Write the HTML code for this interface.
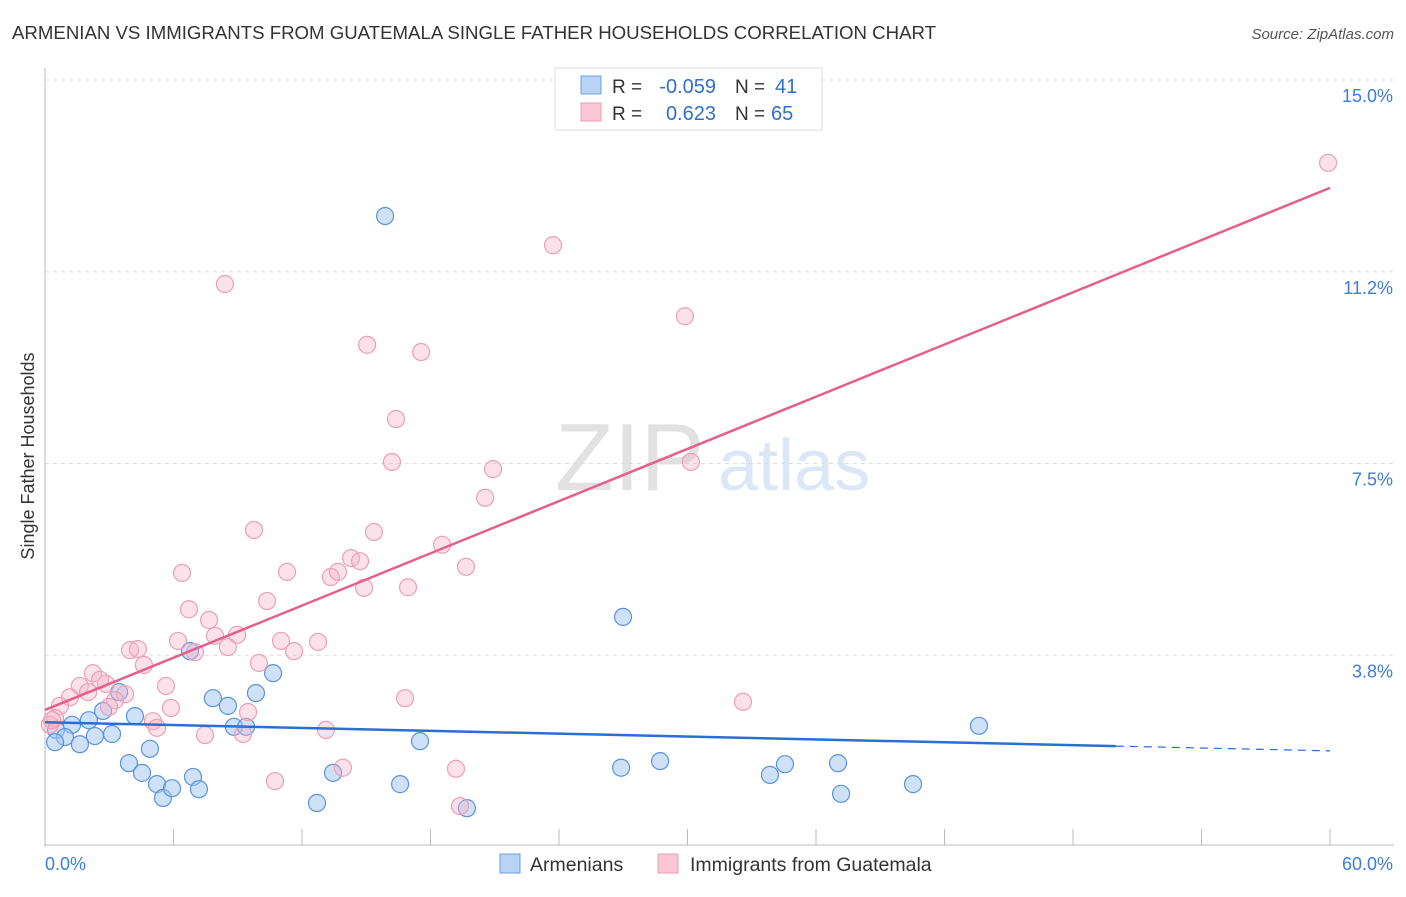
<!DOCTYPE html>
<html><head><meta charset="utf-8"><style>
body{margin:0;background:#fff;font-family:"Liberation Sans",sans-serif}
svg text{font-family:"Liberation Sans",sans-serif}
</style></head><body>
<svg id="chart" width="1406" height="892" xmlns="http://www.w3.org/2000/svg">
<text x="12" y="39" font-size="18.5" fill="#333" textLength="924" lengthAdjust="spacingAndGlyphs">ARMENIAN VS IMMIGRANTS FROM GUATEMALA SINGLE FATHER HOUSEHOLDS CORRELATION CHART</text>
<text x="1394" y="39" font-size="15" fill="#555" font-style="italic" text-anchor="end">Source: ZipAtlas.com</text>
<text x="555" y="490" font-size="96" fill="#e2e2e2" font-family="Liberation Serif">ZIP</text>
<text x="718" y="490" font-size="72" fill="#dbe7f6">atlas</text>
<g id="grid"></g>
<g id="axes"></g>
<g id="marks"></g>
<text transform="translate(34,456) rotate(-90)" font-size="18" fill="#333" text-anchor="middle">Single Father Households</text>
<g>
<rect x="555" y="68" width="267" height="62" fill="#fff" stroke="#ddd"/>
<rect x="581" y="76" width="20" height="18" fill="#b8d3f5" stroke="#6d9fe0"/>
<rect x="581" y="103" width="20" height="18" fill="#f9c6d5" stroke="#eba0b8"/>
<text x="612" y="93" font-size="19" fill="#333">R =</text>
<text x="716" y="93" font-size="20" fill="#2f6fd0" text-anchor="end">-0.059</text>
<text x="735" y="93" font-size="19" fill="#333">N =</text>
<text x="775" y="93" font-size="20" fill="#2f6fd0">41</text>
<text x="612" y="120" font-size="19" fill="#333">R =</text>
<text x="716" y="120" font-size="20" fill="#2f6fd0" text-anchor="end">0.623</text>
<text x="735" y="120" font-size="19" fill="#333">N =</text>
<text x="771" y="120" font-size="20" fill="#2f6fd0">65</text>
</g>
<g>
<rect x="500" y="854" width="20" height="19" fill="#b8d3f5" stroke="#6d9fe0"/>
<text x="530" y="871" font-size="19.5" fill="#333">Armenians</text>
<rect x="658" y="854" width="20" height="19" fill="#f9c6d5" stroke="#eba0b8"/>
<text x="690" y="871" font-size="19.5" fill="#333">Immigrants from Guatemala</text>
</g>
</svg>
<script>
const yTicks=[3.75,7.5,11.25,15];
const yTickLabels=["3.8%","7.5%","11.2%","15.0%"];
const xTickLabels=["0.0%","60.0%"];
const blueX=[15.88,26.99,43.61,6.77,10.65,7.84,9.85,3.46,8.54,4.20,2.71,2.05,1.26,0.51,0.93,0.47,1.63,2.33,3.13,4.90,8.82,9.39,17.51,3.92,4.53,5.23,5.51,5.93,6.91,7.19,12.70,13.45,16.58,19.70,26.90,28.72,33.85,34.55,37.03,37.17,40.53];
const blueY=[12.34,4.50,2.37,3.83,3.40,2.91,3.01,3.03,2.76,2.56,2.66,2.48,2.39,2.29,2.15,2.05,2.01,2.17,2.21,1.92,2.35,2.35,2.07,1.64,1.45,1.23,0.96,1.15,1.37,1.13,0.86,1.45,1.23,0.76,1.55,1.68,1.41,1.62,1.64,1.04,1.23];
const pinkX=[59.91,23.72,8.40,29.88,15.04,17.56,16.39,16.20,20.92,20.55,9.76,15.36,18.54,14.29,14.71,13.35,13.68,19.66,6.40,11.30,14.90,16.95,10.37,6.72,7.66,8.97,7.94,6.21,3.97,4.34,7.00,8.54,11.02,12.75,11.63,4.62,9.99,2.24,2.85,1.63,2.57,5.65,3.74,2.01,1.17,0.70,3.27,2.99,0.47,0.23,5.88,5.04,5.23,9.48,7.47,9.25,13.12,16.81,32.59,30.16,10.74,13.91,19.19,19.38,0.33];
const pinkY=[13.38,11.77,11.01,10.38,9.82,9.68,8.37,7.53,7.39,6.83,6.20,6.16,5.91,5.65,5.59,5.28,5.38,5.48,5.36,5.38,5.07,5.08,4.81,4.65,4.44,4.15,4.13,4.03,3.85,3.87,3.81,3.91,4.03,4.01,3.83,3.56,3.60,3.40,3.19,3.15,3.27,3.15,2.99,3.03,2.93,2.76,2.87,2.74,2.52,2.39,2.72,2.46,2.33,2.64,2.19,2.21,2.29,2.91,2.84,7.53,1.29,1.55,1.53,0.80,2.48];
const blueTrend=[2.44,1.88];
const pinkTrend=[2.68,12.89];
const blueSolidEnd=50;
const X0=45,X1=1330,Y0=847,Y1=80;
const sx=v=>X0+(v/60)*(X1-X0);
const sy=v=>Y0-(v/15)*(Y0-Y1);
const NS="http://www.w3.org/2000/svg";
function mk(t,a,p){const e=document.createElementNS(NS,t);for(const k in a)e.setAttribute(k,a[k]);p.appendChild(e);return e;}
const grid=document.getElementById('grid'),axes=document.getElementById('axes'),marks=document.getElementById('marks');
yTicks.forEach((t,i)=>{
 const l=mk('line',{x1:X0,x2:1394,y1:sy(t),y2:sy(t),stroke:'#ddd','stroke-dasharray':'4,4'},grid);
 
 
 const tx=mk('text',{x:1393,y:sy(t)+22,'font-size':18,fill:'#3b7dd8','text-anchor':'end'},axes);
 tx.textContent=yTickLabels[i];
 
 
});
const ya=mk('line',{x1:X0,x2:X0,y1:68,y2:Y0,stroke:'#bbb'},axes);


const xa=mk('line',{x1:X0,x2:1394,y1:Y0-2,y2:Y0-2,stroke:'#bbb'},axes);


for(let i=1;i<=10;i++){
 const t=mk('line',{x1:sx(i*6),x2:sx(i*6),y1:Y0-18,y2:Y0-2,stroke:'#bbb'},axes);
 
 
}
const xl0=mk('text',{x:X0,y:870,'font-size':18,fill:'#3b7dd8'},axes);xl0.textContent=xTickLabels[0];


const xl1=mk('text',{x:1393,y:870,'font-size':18,fill:'#3b7dd8','text-anchor':'end'},axes);xl1.textContent=xTickLabels[1];


blueX.forEach((v,i)=>{
 const c=mk('circle',{cx:sx(v),cy:sy(blueY[i]),r:8.5,fill:'rgba(160,196,240,0.5)',stroke:'#5b93dd','stroke-width':1.2},marks);
 
 
});
pinkX.forEach((v,i)=>{
 const c=mk('circle',{cx:sx(v),cy:sy(pinkY[i]),r:8.5,fill:'rgba(245,180,200,0.4)',stroke:'#eba0b8','stroke-width':1.2},marks);
 
 
});
const by=x=>blueTrend[0]+(blueTrend[1]-blueTrend[0])*x/60;
const bl=mk('line',{x1:sx(0),y1:sy(by(0)),x2:sx(blueSolidEnd),y2:sy(by(blueSolidEnd)),stroke:'#2a6fd6','stroke-width':2.5},marks);


const bd=mk('line',{x1:sx(blueSolidEnd),y1:sy(by(blueSolidEnd)),x2:sx(60),y2:sy(by(60)),stroke:'#2a6fd6','stroke-width':1.2,'stroke-dasharray':'8,6'},marks);


const pl=mk('line',{x1:sx(0),y1:sy(pinkTrend[0]),x2:sx(60),y2:sy(pinkTrend[1]),stroke:'#e4608a','stroke-width':2.5},marks);


</script>
</body></html>
